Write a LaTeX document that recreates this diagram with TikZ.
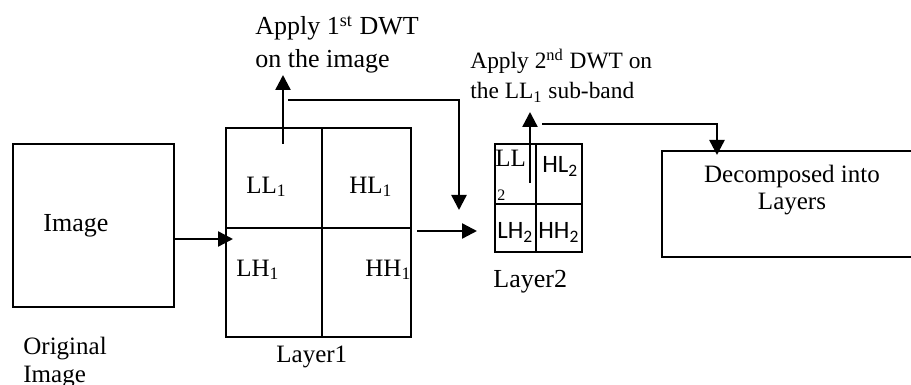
\documentclass[tikz,border=0pt]{standalone}
\usepackage{fontspec}
\setmainfont{Liberation Serif}
\newfontfamily\calfont{Carlito}
\usetikzlibrary{arrows.meta,fit}

\begin{document}
\begin{tikzpicture}[x=0.5pt,y=-0.5pt]

\tikzset{box/.style={draw=black, line width=0.85pt, inner sep=0pt}}
\tikzset{lbl/.style={inner sep=0pt, anchor=base west, font=\fontsize{12.5}{15}\selectfont}}
\tikzset{biglbl/.style={lbl, font=\fontsize{13}{16}\selectfont}}
\tikzset{smalllbl/.style={lbl, font=\fontsize{11.7}{14}\selectfont}}
\tikzset{callbl/.style={lbl, font=\calfont\fontsize{12.5}{15}\selectfont}}
\tikzset{arr/.style={line width=1.2pt, -{Triangle[length=7.5pt,width=7.5pt]}}}

\clip (0,0) rectangle (911,385);

% original image
\node[box, fit={(13,144) (174,307)}] (img) {};
\node[biglbl] (imgtxt) at (43,231) {Image};
\node[lbl] (orig1) at (23,354) {Original};
\node[lbl] (orig2) at (23,382) {Image};

% first level
\node[box, fit={(226,128) (322,228)}] (ll1) {};
\node[box, fit={(322,128) (411,228)}] (hl1) {};
\node[box, fit={(226,228) (322,337)}] (lh1) {};
\node[box, fit={(322,228) (411,337)}] (hh1) {};
\node[lbl] (ll1txt) at (246,193) {LL\textsubscript{1}};
\node[lbl] (hl1txt) at (349,193) {HL\textsubscript{1}};
\node[lbl] (lh1txt) at (236,276) {LH\textsubscript{1}};
\node[lbl] (hh1txt) at (365,276) {HH\textsubscript{1}};
\node[lbl] (lay1) at (276,362) {Layer1};

% second level
\node[box, fit={(495,144) (536,204)}] (ll2) {};
\node[box, fit={(536,144) (582,204)}] (hl2) {};
\node[box, fit={(495,204) (536,252)}] (lh2) {};
\node[box, fit={(536,204) (582,252)}] (hh2) {};
\node[lbl] (ll2txt) at (495,167) {LL};
\node[lbl, font=\fontsize{8}{9}\selectfont] (ll2sub) at (497,200) {2};
\node[callbl] (hl2txt) at (542,173) {HL\textsubscript{2}};
\node[callbl] (lh2txt) at (497,239) {LH\textsubscript{2}};
\node[callbl] (hh2txt) at (538,239) {HH\textsubscript{2}};
\node[biglbl] (lay2) at (493,287) {Layer2};

% result
\node[box, fit={(662,151) (925,257)}] (dec) {};
\node[lbl, anchor=base] (dec1) at (792,183) {Decomposed into};
\node[lbl, anchor=base] (dec2) at (792,210) {Layers};

% step labels
\node[biglbl] (app1a) at (255,35) {Apply 1\textsuperscript{st} DWT};
\node[biglbl] (app1b) at (255,68) {on the image};
\node[smalllbl] (app2a) at (470,69) {Apply 2\textsuperscript{nd} DWT on};
\node[smalllbl] (app2b) at (470,99) {the LL\textsubscript{1} sub-band};

% connectors
\coordinate (a1e) at (233,239);
\draw[arr] (img.east |- a1e) -- (a1e);

\coordinate (up1s) at (283,144);
\coordinate (up1e) at (283,75);
\draw[arr] (up1s) -- (up1e);

\coordinate (w1s) at (288,100);
\coordinate (w1e) at (459,210);
\draw[arr] (w1s) -| (w1e);

\coordinate (a2s) at (417,231);
\coordinate (a2e) at (477,231);
\draw[arr] (a2s) -- (a2e);

\coordinate (up2s) at (530,183);
\coordinate (up2e) at (530,112);
\draw[arr] (up2s) -- (up2e);

\coordinate (w2s) at (542,124);
\coordinate (w2e) at (717,155);
\draw[arr] (w2s) -| (w2e);

\end{tikzpicture}
\end{document}
